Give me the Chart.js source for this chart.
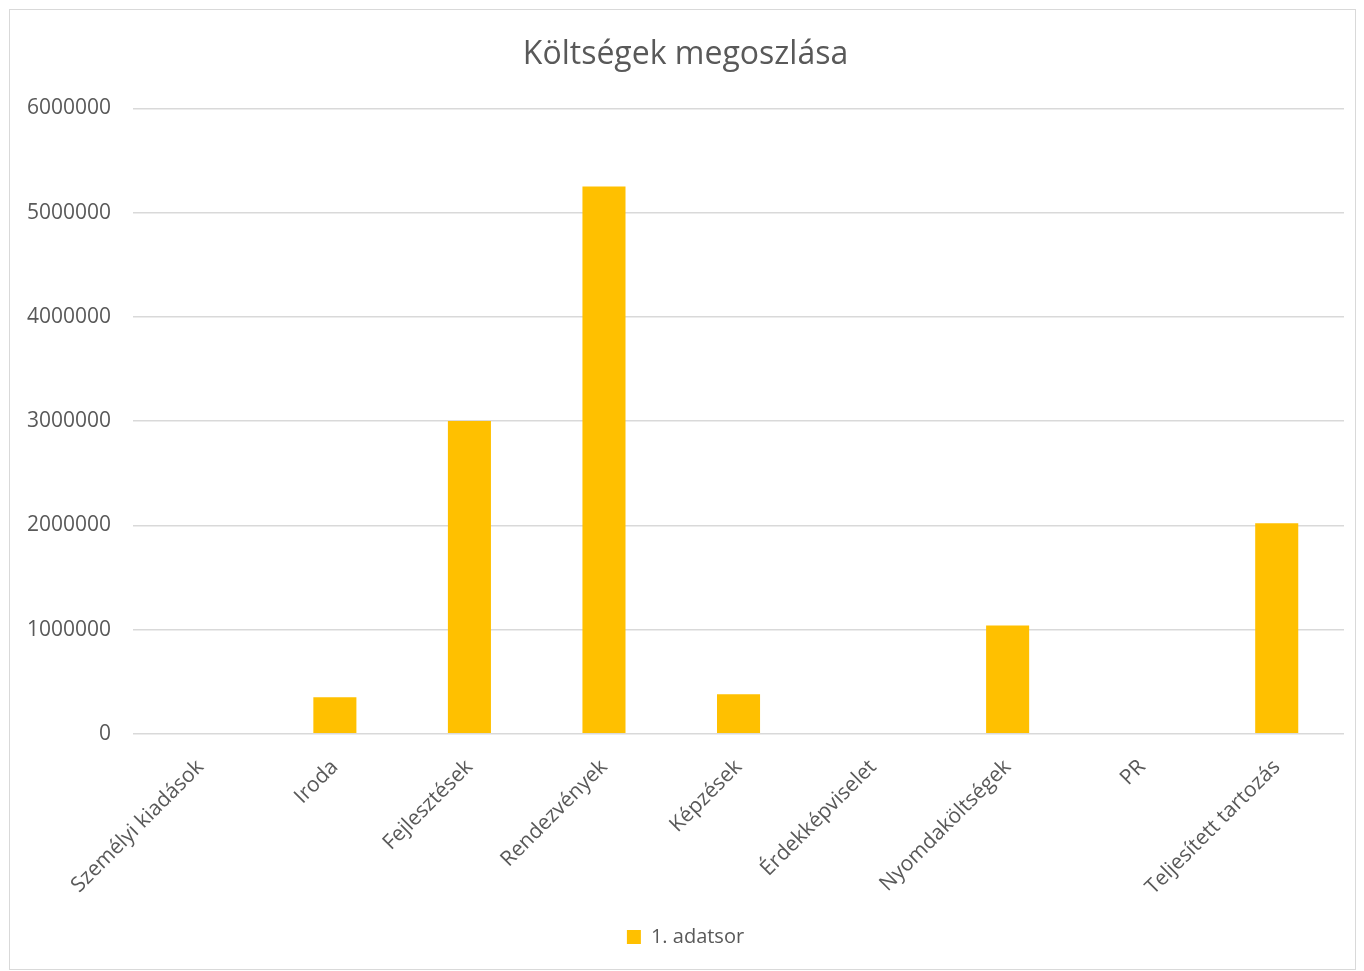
<!DOCTYPE html>
<html>
<head>
<meta charset="utf-8">
<script src="https://cdn.jsdelivr.net/npm/chart.js@4"></script>
<style>
  body { margin: 0; background: #fff; }
  #wrap {
    position: absolute; left: 9px; top: 9px;
    width: 1345px; height: 959px;
    border: 1px solid #d9d9d9; background: #fff;
  }
</style>
</head>
<body>
<div id="wrap"><canvas id="chart"></canvas></div>
<script>
// Adatok
const kategoriak = ['Személyi kiadások', 'Iroda', 'Fejlesztések', 'Rendezvények', 'Képzések',
  'Érdekképviselet', 'Nyomdaköltségek', 'PR', 'Teljesített tartozás'];
const ertekek = [0, 350000, 3000000, 5250000, 380000, 0, 1040000, 0, 2020000];
const sorozatNev = '1. adatsor';
const tengelyMax = 6000000;
const tengelyLepes = 1000000;

const szin = '#ffc000';
const szovegSzin = '#595959';
const betu = "'Open Sans', 'Liberation Sans', sans-serif";

const ctx = document.getElementById('chart');
new Chart(ctx, {
  type: 'bar',
  data: {
    labels: kategoriak,
    datasets: [{
      label: sorozatNev,
      data: ertekek,
      backgroundColor: szin,
      borderWidth: 0,
      categoryPercentage: 1,
      barPercentage: 0.32
    }]
  },
  options: {
    responsive: true,
    maintainAspectRatio: false,
    animation: false,
    layout: { padding: { left: 17, right: 11, top: 26, bottom: 12 } },
    plugins: {
      title: {
        display: true,
        text: 'Költségek megoszlása',
        color: szovegSzin,
        font: { family: betu, size: 32, weight: 'normal' },
        padding: { top: 0, bottom: 34 }
      },
      legend: {
        position: 'bottom',
        labels: {
          color: szovegSzin,
          font: { family: betu, size: 20 },
          boxWidth: 14,
          boxHeight: 14,
          padding: 14
        }
      },
      tooltip: { enabled: false }
    },
    scales: {
      x: {
        grid: { display: false },
        border: { display: false },
        // a ferde feliratok ne tolják el a rajzterületet balra
        afterFit: s => { s.paddingLeft = 0; },
        ticks: {
          color: szovegSzin,
          font: { family: betu, size: 21 },
          minRotation: 45,
          maxRotation: 45,
          padding: 13
        }
      },
      y: {
        min: 0,
        max: tengelyMax,
        // a Chart.js kétszer számolja a tick paddinget, a külsőt levesszük
        afterFit: s => { s.width -= 22; },
        ticks: {
          stepSize: tengelyLepes,
          color: szovegSzin,
          font: { family: betu, size: 21 },
          padding: 22,
          callback: v => String(v)
        },
        grid: { color: '#d9d9d9', lineWidth: 1.5, drawTicks: false },
        border: { display: false }
      }
    }
  }
});
</script>
</body>
</html>
